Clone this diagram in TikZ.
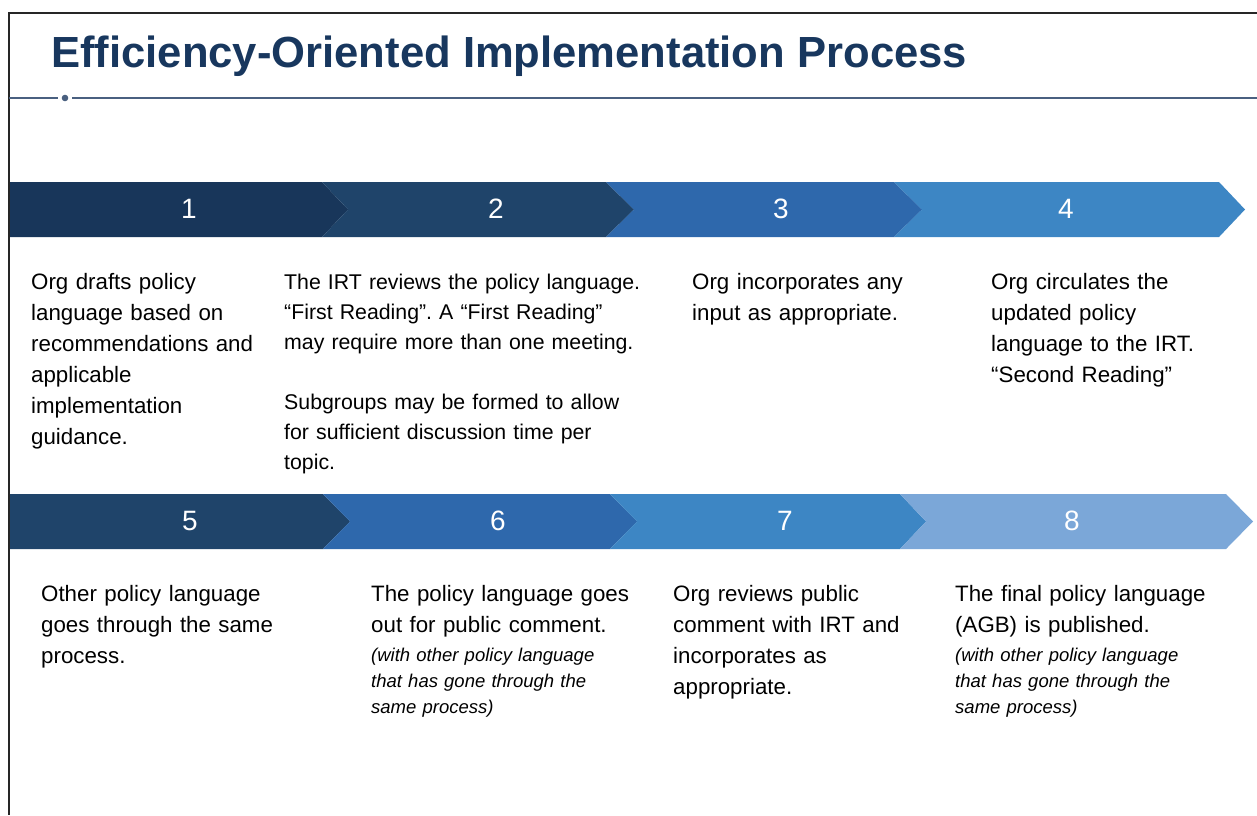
\documentclass[tikz,border=0pt]{standalone}
\usepackage{fontspec}
\setmainfont{Liberation Sans}
\usetikzlibrary{positioning}
\usepackage{xcolor}
\definecolor{titleblue}{RGB}{24,55,94}
\definecolor{ruleblue}{RGB}{74,96,128}
\definecolor{stepA}{RGB}{24,54,90}
\definecolor{stepB}{RGB}{31,68,106}
\definecolor{stepC}{RGB}{46,104,172}
\definecolor{stepD}{RGB}{61,134,196}
\definecolor{stepE}{RGB}{123,167,216}
\frenchspacing

\begin{document}
\begin{tikzpicture}
[x=1pt, y=-1pt,
 num/.style={text=white, inner sep=0pt, font=\fontsize{28}{28}\selectfont},
 body/.style={anchor=base west, inner sep=0pt, text width=380pt, align=left, font=\fontsize{22.3}{31}\selectfont},
 note/.style={anchor=base west, inner sep=0pt, text width=300pt, align=left, font=\fontsize{18.5}{26}\selectfont\itshape}]

\useasboundingbox (0,0) rectangle (1257,815);

% Frame and title:
\draw[line width=2pt, color=black!85] (1257,13) -- (9,13) -- (9,815);
\node[anchor=base west, inner sep=0pt, text=titleblue, font=\fontsize{43.6}{44}\selectfont\bfseries] (title) at (51,67) {Efficiency-Oriented Implementation Process};
\draw[line width=2.2pt, color=ruleblue] (9,98) -- (58,98);
\draw[line width=2.2pt, color=ruleblue] (72,98) -- (1257,98);
\fill[color=ruleblue] (65,98) circle (3.3pt);

% Chevrons, first row:
\fill[stepA] (10,182) -- (322,182) -- (348,209.5) -- (322,237) -- (10,237) -- cycle;
\fill[stepB] (322,182) -- (606,182) -- (634,209.5) -- (606,237) -- (322,237) -- (348,209.5) -- cycle;
\fill[stepC] (606,182) -- (894,182) -- (922,209.5) -- (894,237) -- (606,237) -- (634,209.5) -- cycle;
\fill[stepD] (894,182) -- (1219,182) -- (1245,209.5) -- (1219,237) -- (894,237) -- (922,209.5) -- cycle;

% Chevrons, second row:
\fill[stepB] (10,494) -- (323,494) -- (350,521.5) -- (323,549) -- (10,549) -- cycle;
\fill[stepC] (323,494) -- (610,494) -- (637,521.5) -- (610,549) -- (323,549) -- (350,521.5) -- cycle;
\fill[stepD] (610,494) -- (900,494) -- (926,521.5) -- (900,549) -- (610,549) -- (637,521.5) -- cycle;
\fill[stepE] (900,494) -- (1226,494) -- (1253,521.5) -- (1226,549) -- (900,549) -- (926,521.5) -- cycle;

% Step numbers:
\node[num] (n1) at (189,209) {1};
\node[num] (n2) at (496,209) {2};
\node[num] (n3) at (781,209) {3};
\node[num] (n4) at (1066,209) {4};
\node[num] (n5) at (190,521) {5};
\node[num] (n6) at (498,521) {6};
\node[num] (n7) at (785,521) {7};
\node[num] (n8) at (1072,521) {8};

% Step texts, first row:
\node[body] (t1) at (31,289) {Org drafts policy\\language based on\\recommendations and\\applicable\\implementation\\guidance.};
\node[body, font=\fontsize{21.3}{30}\selectfont] (t2) at (284,289) {The IRT reviews the policy language.\\“First Reading”. A “First Reading”\\may require more than one meeting.\\[30pt]Subgroups may be formed to allow\\for sufficient discussion time per\\topic.};
\node[body] (t3) at (692,289) {Org incorporates any\\input as appropriate.};
\node[body] (t4) at (991,289) {Org circulates the\\updated policy\\language to the IRT.\\“Second Reading”};

% Step texts, second row:
\node[body] (t5) at (41,601) {Other policy language\\goes through the same\\process.};
\node[body] (t6) at (371,601) {The policy language goes\\out for public comment.};
\node[note] (s6) at (371,661) {(with other policy language\\that has gone through the\\same process)};
\node[body] (t7) at (673,601) {Org reviews public\\comment with IRT and\\incorporates as\\appropriate.};
\node[body] (t8) at (955,601) {The final policy language\\(AGB) is published.};
\node[note] (s8) at (955,661) {(with other policy language\\that has gone through the\\same process)};

\end{tikzpicture}
\end{document}
